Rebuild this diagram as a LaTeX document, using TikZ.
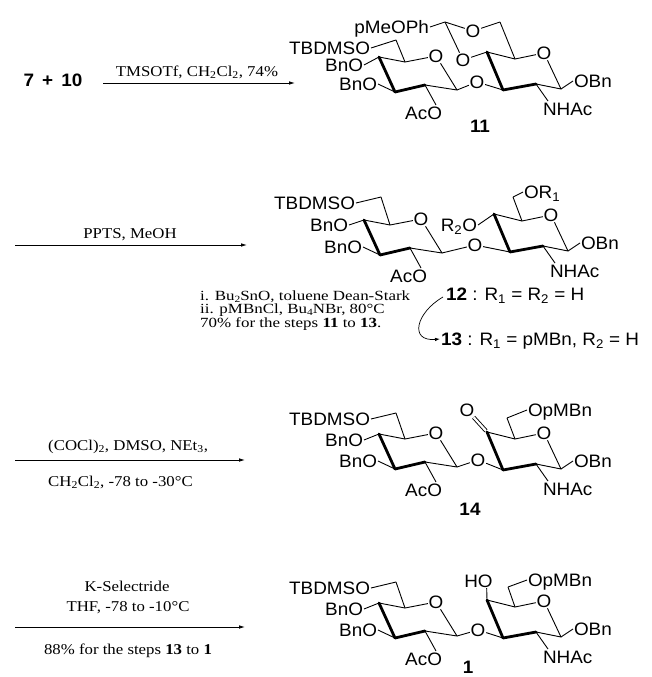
\documentclass[tikz,border=0pt]{standalone}
\usepackage{fontspec}
\setmainfont{Liberation Serif}[FakeStretch=1.12]
\newfontfamily\condfont{Liberation Serif}[FakeStretch=1.21]
\newfontfamily\chemfont{Liberation Sans}[FakeStretch=1.05]
\usetikzlibrary{arrows.meta}
\newcommand\csub[1]{\raisebox{-1.8pt}{\fontsize{9.5}{10}\selectfont #1}}
\tikzset{
  grp/.style={font=\chemfont\fontsize{18}{20}\selectfont, inner sep=0.8pt, text height=13pt, text depth=0pt},
  atom/.style={grp, inner sep=0.6pt},
  bond/.style={line width=0.9pt, line join=round},
  boldbond/.style={line width=2.8pt, line cap=round, line join=round},
  lab/.style={font=\chemfont\bfseries\fontsize{18}{20}\selectfont, inner sep=0pt},
  cond/.style={font={\fontsize{15}{12.5}\selectfont\lineskiplimit=-20pt}, inner sep=0pt, align=left},
  condblock/.style={font={\condfont\fontsize{14}{13.3}\selectfont\lineskiplimit=-20pt}, inner sep=0pt, align=left},
  arr/.style={line width=0.8pt, -{Latex[length=6pt,width=3.6pt]}},
}
% #1 = y of C6, #2 = y of TBDMSO, #3 = y of upper BnO
\newcommand\RingA[3]{%
  \coordinate (C1) at (0,0);
  \coordinate (C2) at (-32,-5);
  \coordinate (C3) at (-62,2);
  \coordinate (C4) at (-78,-33);
  \coordinate (C5) at (-52,-28);
  \coordinate (C6) at (-61,#1);
  \node[atom] (O5) at (-21,-34) {O};
  \node[grp,anchor=east] (O6) at (-86,#2) {TBDMSO};
  \node[grp,anchor=east] (O4) at (-93,#3) {BnO};
  \node[grp,anchor=east] (O3) at (-79,-6) {BnO};
  \node[grp,anchor=north east] (O2) at (-14,15) {AcO};
  \draw[bond] (O6.east) -- (C6) -- (C5) -- (O5) -- (C1) -- (C2);
  \draw[bond] (O4.east) -- (C4) -- (C5);
  \draw[bond] (O3.east) -- (C3);
  \draw[bond] (C2) -- ([xshift=-7pt]O2.north east);
  \draw[boldbond] (C4) -- (C3) -- (C2);
}
\newcommand\RingB[1]{%
  \coordinate (D3) at (0,0);
  \coordinate (D4) at (-16,-38);
  \coordinate (D5) at (12,-31);
  \coordinate (D6) at (#1);
  \node[atom] (P5) at (41,-37) {O};
  \coordinate (D1) at (58,-1);
  \coordinate (D2) at (33,-6);
  \node[grp,anchor=west] (P1) at (70,-9) {OBn};
  \node[grp,anchor=north west] (N2) at (39,11) {NHAc};
  \draw[bond] (D6) -- (D5) -- (P5) -- (D1) -- (D2);
  \draw[bond] (D4) -- (D5);
  \draw[bond] (D1) -- (P1.west);
  \draw[bond] (D2) -- ([xshift=6pt]N2.north west);
  \draw[boldbond] (D4) -- (D3) -- (D2);
}
\begin{document}
\begin{tikzpicture}[x=1pt,y=-1pt]
\fill[white] (0,0) rectangle (652,677);
\useasboundingbox (0,0) rectangle (652,677);

% ---------- reaction 1 ----------
\node[lab] (r710) at (53,80) {7\hspace{0.45em}+\hspace{0.45em}10};
\node[cond,anchor=base] (t1) at (197,76) {TMSOTf, CH\textsubscript{2}Cl\textsubscript{2}, 74\%};
\coordinate (a1s) at (103,83);
\coordinate (a1e) at (295,83);
\draw[arr] (a1s) -- (a1e);

% ---------- compound 11 ----------
\begin{scope}[shift={(457,90)}, name prefix=c11-]
  \RingA{-50}{-42}{-25}
  \node[atom] (Og) at (20,-8) {O};
  \begin{scope}[shift={(46,0)}]
    \RingB{-3,-68}
    \coordinate (Ac) at (-58,-68);
    \node[atom] (P4) at (-40,-30) {O};
    \node[atom] (P6) at (-30,-59) {O};
    \node[grp,anchor=east] (Ph) at (-73,-63) {pMeOPh};
    \draw[bond] (Ph.east) -- (Ac) -- (P6) -- (D6);
    \draw[bond] (Ac) -- (P4) -- (D4);
  \end{scope}
  \draw[bond] (C1) -- (Og) -- (D3);
  \node[lab] (L) at (23,36) {11};
\end{scope}

% ---------- reaction 2 ----------
\node[cond,anchor=base] (t2) at (130,238) {PPTS, MeOH};
\coordinate (a2s) at (15,245);
\coordinate (a2e) at (247,245);
\draw[arr] (a2s) -- (a2e);

% ---------- compound 12 ----------
\begin{scope}[shift={(442,253)}, name prefix=c12-]
  \RingA{-56}{-50}{-28}
  \node[atom] (Og) at (33,-8) {O};
  \begin{scope}[shift={(68,-1)}]
    \RingB{3,-55}
    \node[grp,anchor=east] (P4) at (-32,-27) {R\textsubscript{2}O};
    \node[grp,anchor=west] (P6) at (13,-60) {OR\textsubscript{1}};
    \draw[bond] (D6) -- (P6.west);
    \draw[bond] (P4.east) -- (D4);
  \end{scope}
  \draw[bond] (C1) -- (Og) -- (D3);
\end{scope}

\node[condblock,anchor=north west] (cnd) at (200,290.5) {i. Bu\csub{2}SnO, toluene Dean-Stark\\ii. pMBnCl, Bu\csub{4}NBr, 80°C\\70\% for the steps \textbf{11} to \textbf{13}.};
\node[grp,anchor=west] (L12) at (445,294) {\textbf{12} : R\textsubscript{1} = R\textsubscript{2} = H};
\node[grp,anchor=west] (L13) at (440,339) {\textbf{13} : R\textsubscript{1} = pMBn, R\textsubscript{2} = H};
\draw[line width=0.7pt, -{Latex[length=5pt,width=3.4pt]}] ([xshift=-2pt,yshift=-3pt]L12.west) to[out=210,in=185,looseness=1.9] ([xshift=0pt]L13.west);

% ---------- reaction 3 ----------
\node[cond,anchor=base west] (t3a) at (48,450) {(COCl)\textsubscript{2}, DMSO, NEt\textsubscript{3},};
\node[cond,anchor=base west] (t3b) at (48,486) {CH\textsubscript{2}Cl\textsubscript{2}, -78 to -30°C};
\coordinate (a3s) at (15,460);
\coordinate (a3e) at (245,460);
\draw[arr] (a3s) -- (a3e);

% ---------- compound 14 ----------
\begin{scope}[shift={(457,467)}, name prefix=c14-]
  \RingA{-54}{-48}{-27}
  \node[atom] (Og) at (21,-7) {O};
  \begin{scope}[shift={(46,3)}]
    \RingB{4,-52}
    \node[atom] (P4) at (-36,-60) {O};
    \node[grp,anchor=west] (P6) at (24,-60) {OpMBn};
    \draw[bond] (D6) -- (P6.west);
    \draw[bond,double,double distance=2.2pt,shorten <=1.5pt] (D4) -- (P4);
  \end{scope}
  \draw[bond] (C1) -- (Og) -- (D3);
  \node[lab] (L) at (13,42) {14};
\end{scope}

% ---------- reaction 4 ----------
\node[cond,anchor=base] (t4a) at (127,591) {K-Selectride};
\node[cond,anchor=base] (t4b) at (128,611) {THF, -78 to -10°C};
\node[cond,anchor=base] (t4c) at (128,654) {88\% for the steps \textbf{13} to \textbf{1}};
\coordinate (a4s) at (15,627);
\coordinate (a4e) at (245,627);
\draw[arr] (a4s) -- (a4e);

% ---------- compound 1 ----------
\begin{scope}[shift={(457,636)}, name prefix=c1-]
  \RingA{-54}{-48}{-27}
  \node[atom] (Og) at (21,-6) {O};
  \begin{scope}[shift={(46,2)}]
    \RingB{5,-51}
    \node[grp] (P4) at (-24.5,-57.5) {HO};
    \node[grp,anchor=west] (P6) at (24,-58) {OpMBn};
    \draw[bond] (D6) -- (P6.west);
    \draw[bond] (D4) -- ([xshift=-7pt]P4.south east);
  \end{scope}
  \draw[bond] (C1) -- (Og) -- (D3);
  \node[lab] (L) at (11,31) {1};
\end{scope}
\end{tikzpicture}
\end{document}
